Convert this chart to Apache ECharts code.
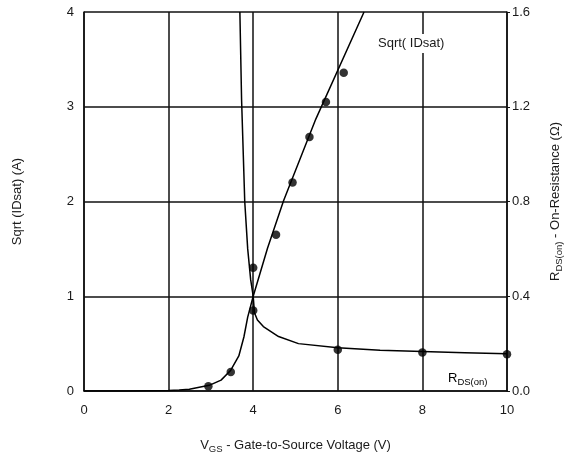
<!DOCTYPE html>
<html><head><meta charset="utf-8">
<script src="https://cdn.jsdelivr.net/npm/echarts@6/dist/echarts.min.js"></script>
<style>html,body{margin:0;padding:0;background:#fff}#c{width:572px;height:459px}</style>
</head><body><div id="c"></div>
<script>
// Sqrt(IDsat) curve (left axis, A^0.5) vs VGS
const sqrtCurveV = [0, 1, 2, 2.25, 2.49, 2.96, 3.24, 3.47, 3.66, 3.78, 3.87, 4.0, 4.34, 4.72, 5.48, 6.62];
const sqrtCurveY = [0, 0, 0.005, 0.01, 0.018, 0.06, 0.115, 0.22, 0.37, 0.57, 0.78, 1.0, 1.51, 2.01, 2.87, 4.0];
// Sqrt(IDsat) measured dots
const sqrtDotV = [2.94, 3.47, 4.0, 4.54, 4.93, 5.33, 5.72, 6.14];
const sqrtDotY = [0.05, 0.20, 0.85, 1.65, 2.20, 2.68, 3.05, 3.36];
// RDS(on) curve (right axis, ohm)
const rdsCurveV = [3.685, 3.725, 3.80, 3.87, 3.94, 4.0, 4.03, 4.1, 4.24, 4.6, 5.07, 6.0, 7.0, 8.0, 9.0, 10.0];
const rdsCurveY = [1.6, 1.232, 0.80, 0.60, 0.47, 0.40, 0.33, 0.30, 0.272, 0.23, 0.20, 0.183, 0.172, 0.167, 0.162, 0.157];
// RDS(on) measured dots
const rdsDotV = [4.0, 6.0, 8.0, 10.0];
const rdsDotY = [0.52, 0.174, 0.163, 0.155];
// ticks
const xTicks = [0, 2, 4, 6, 8, 10];
const leftTicks = [0, 1, 2, 3, 4];
const rightTicks = [0.0, 0.4, 0.8, 1.2, 1.6];

const FONT = 'Liberation Sans';
const TXT = '#1a1a1a';
const zip = (a, b) => a.map((v, i) => [v, b[i]]);

const chart = echarts.init(document.getElementById('c'), null, {renderer: 'canvas'});
const rich = {
  a: {fontFamily: FONT, fontSize: 13, color: TXT},
  s: {fontFamily: FONT, fontSize: 9.5, color: TXT, padding: [7, 0, 0, 0]}
};
chart.setOption({
  animation: false,
  backgroundColor: '#fff',
  grid: {left: 84, right: 62, top: 12, bottom: 64},
  xAxis: {
    type: 'value', min: xTicks[0], max: xTicks[xTicks.length - 1], interval: 2,
    axisLine: {lineStyle: {color: '#111', width: 1.5}},
    axisTick: {show: false},
    splitLine: {show: true, lineStyle: {color: '#111', width: 1.5}},
    axisLabel: {fontFamily: FONT, fontSize: 13, color: TXT, margin: 13},
    name: '{a|V}{s|GS}{a| - Gate-to-Source Voltage (V)}',
    nameLocation: 'middle', nameGap: 46,
    nameTextStyle: {rich: rich}
  },
  yAxis: [{
    type: 'value', min: leftTicks[0], max: leftTicks[leftTicks.length - 1], interval: 1,
    axisLine: {show: true, lineStyle: {color: '#111', width: 1.5}},
    axisTick: {show: false},
    splitLine: {show: true, lineStyle: {color: '#111', width: 1.5}},
    axisLabel: {fontFamily: FONT, fontSize: 13, color: TXT, margin: 10},
    name: 'Sqrt (IDsat) (A)', nameLocation: 'middle', nameGap: 60, nameRotate: 90,
    nameTextStyle: {fontFamily: FONT, fontSize: 13, color: TXT}
  }, {
    type: 'value', min: rightTicks[0], max: rightTicks[rightTicks.length - 1], interval: 0.4,
    position: 'right',
    axisLine: {show: true, lineStyle: {color: '#111', width: 1.5}},
    axisTick: {show: true, length: 3, lineStyle: {color: '#111'}},
    splitLine: {show: false},
    axisLabel: {fontFamily: FONT, fontSize: 13, color: TXT, margin: 5, formatter: v => v.toFixed(1)},
    name: '{a|R}{s|DS(on)}{a| - On-Resistance (Ω)}', nameLocation: 'middle', nameGap: 40, nameRotate: 90,
    nameTextStyle: {rich: rich}
  }],
  series: [
    {type: 'line', yAxisIndex: 0, data: zip(sqrtCurveV, sqrtCurveY), showSymbol: false, symbol: 'none',
     lineStyle: {color: '#000', width: 1.5}, z: 3},
    {type: 'line', yAxisIndex: 1, data: zip(rdsCurveV, rdsCurveY), showSymbol: false, symbol: 'none',
     lineStyle: {color: '#000', width: 1.5}, z: 3},
    {type: 'scatter', yAxisIndex: 0, data: zip(sqrtDotV, sqrtDotY), symbolSize: 8.5,
     itemStyle: {color: '#000'}, z: 4},
    {type: 'scatter', yAxisIndex: 1, data: zip(rdsDotV, rdsDotY), symbolSize: 8.5,
     itemStyle: {color: '#000'}, z: 4}
  ],
  graphic: [
    {type: 'text', left: 376, top: 34, z: 10,
     style: {text: 'Sqrt( IDsat)', fontFamily: FONT, fontSize: 13, fill: TXT, backgroundColor: '#fff', padding: [3, 2, 3, 2]}},
    {type: 'text', left: 448, top: 372, z: 10,
     style: {text: '{a|R}{s|DS(on)}', rich: rich}}
  ]
});
</script></body></html>
